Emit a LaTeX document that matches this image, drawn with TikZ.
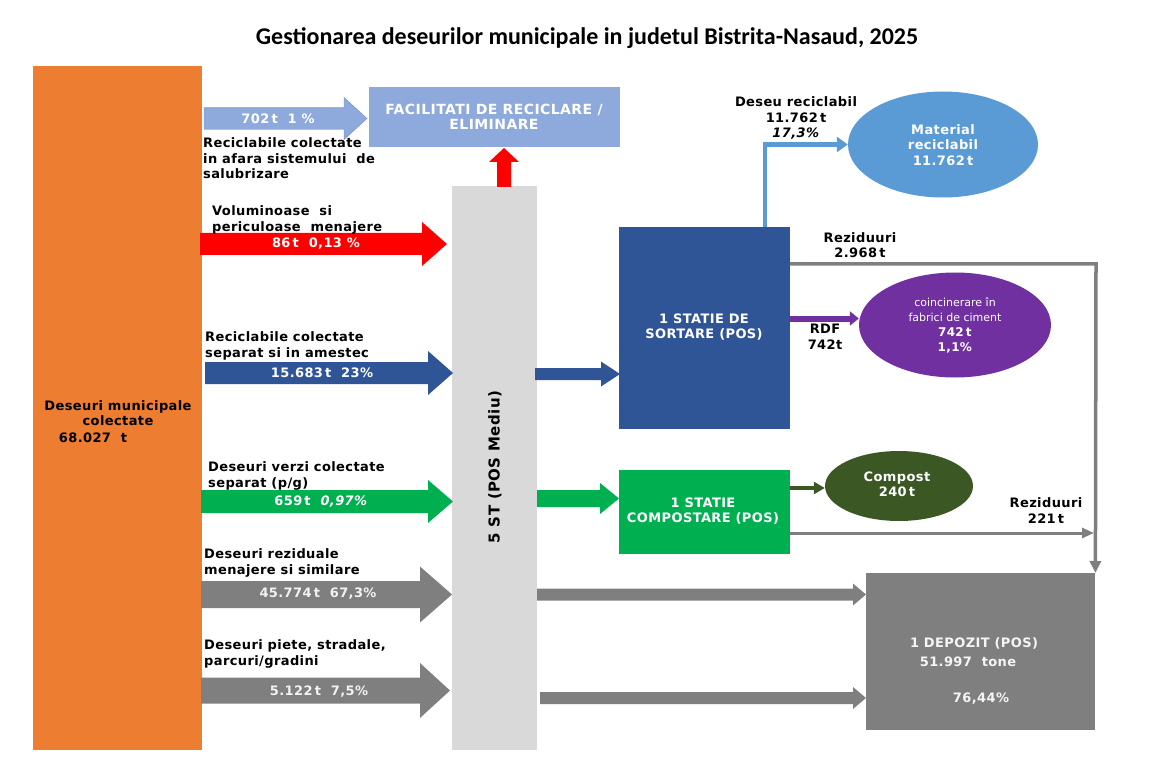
\documentclass[tikz,border=0pt]{standalone}
\usepackage{fontspec}
\setmainfont{DejaVu Sans}[LetterSpace=3]
\newfontfamily\plainfont{DejaVu Sans}
\newfontfamily\titlefont{Carlito}
\usetikzlibrary{shapes.geometric,arrows.meta}
\definecolor{orangeC}{HTML}{ED7D31}
\definecolor{barC}{HTML}{D9D9D9}
\definecolor{lblueC}{HTML}{8EA9DB}
\definecolor{lblueE}{HTML}{6F8BC8}
\definecolor{redC}{HTML}{FF0000}
\definecolor{dblueC}{HTML}{2F5597}
\definecolor{greenC}{HTML}{00B050}
\definecolor{grayC}{HTML}{7F7F7F}
\definecolor{skyC}{HTML}{5B9BD5}
\definecolor{purpleC}{HTML}{7030A0}
\definecolor{dgreenC}{HTML}{3A5724}
\newcommand\blockarr[7]{%
  \fill[#7] ({#1},{#4-#5}) -- ({#2},{#4-#5}) -- ({#2},{#4-#6}) -- ({#3},{#4}) -- ({#2},{#4+#6}) -- ({#2},{#4+#5}) -- ({#1},{#4+#5}) -- cycle;}
\begin{document}
\begin{tikzpicture}[x=1pt,y=-1pt,
  lbl/.style={font=\fontsize{13}{15.5}\selectfont\bfseries, align=left, anchor=north west, inner sep=0pt, text=black},
  clbl/.style={font=\fontsize{13}{15.5}\selectfont\bfseries, align=center, inner sep=0pt, text=black},
  wtxt/.style={font=\fontsize{13}{15.5}\selectfont\bfseries, text=white, inner sep=0pt, align=center},
  box/.style={draw=none, inner sep=0pt, anchor=north west},
  conn/.style={line width=4pt},
]
\useasboundingbox (0,0) rectangle (1161,767);

\node[font=\titlefont\fontsize{24}{28}\selectfont\bfseries] (title) at (587,38) {Gestionarea deseurilor municipale in judetul Bistrita-Nasaud, 2025};

% source
\node[box, fill=orangeC, minimum width=169pt, minimum height=684pt] (src) at (33,66) {};
\node[clbl] (srct) at (118,413) {Deseuri municipale\\colectate};
\node[clbl] (srcv) at (93,438) {68.027\ \ t};

% central bar
\node[box, fill=barC, minimum width=85pt, minimum height=564pt] (bar) at (452,186) {};
\node[rotate=90, font=\fontsize{15}{17}\selectfont\bfseries] (bart) at (495,467) {5 ST (POS Mediu)};

% facilitati
\node[box, fill=lblueC, minimum width=251pt, minimum height=60pt] (fac) at (369,87) {};
\node[wtxt, font=\fontsize{14}{15.5}\selectfont\bfseries] (fact) at (494,117) {FACILITATI DE RECICLARE /\\ELIMINARE};
\fill[redC] (497,187) -- (497,162) -- (489,162) -- (504,148) -- (519,162) -- (511,162) -- (511,187) -- cycle;

% input arrows
\blockarr{204}{344}{367}{118.5}{11}{21}{lblueC, draw=lblueE}
\node[wtxt] (a1) at (278,118.5) {702\,t\ \ 1 \%};
\node[lbl] (l1) at (203,137.5) {Reciclabile colectate\\in afara sistemului\ \ de\\salubrizare};

\blockarr{200}{422}{447}{244}{11}{22}{redC}
\node[wtxt] (a2) at (316,244) {86\,t\ \ 0,13 \%};
\node[lbl] (l2) at (212,205.5) {Voluminoase\ \ si\\periculoase\ \ menajere};

\blockarr{205}{428}{453}{373}{11}{22}{dblueC}
\node[wtxt] (a3) at (322,373) {15.683\,t\ \ 23\%};
\node[lbl] (l3) at (205,331.5) {Reciclabile colectate\\separat si in amestec};

\blockarr{201}{428}{453}{501.5}{11.5}{21.5}{greenC}
\node[wtxt] (a4) at (321,502) {659\,t\ \ \textit{0,97\%}};
\node[lbl] (l4) at (208,461.5) {Deseuri verzi colectate\\separat (p/g)};

\blockarr{201}{420}{452}{594.5}{13.5}{28}{grayC}
\node[wtxt, text=white!90!gray] (a5) at (318,594) {45.774\,t\ \ 67,3\%};
\node[lbl] (l5) at (204,548.5) {Deseuri reziduale\\menajere si similare};

\blockarr{201}{420}{450}{690.5}{13}{27.5}{grayC}
\node[wtxt, text=white!90!gray] (a6) at (319,692) {5.122\,t\ \ 7,5\%};
\node[lbl] (l6) at (204,639.5) {Deseuri piete, stradale,\\parcuri/gradini};

% sorting
\node[box, fill=dblueC, minimum width=171pt, minimum height=202pt] (sort) at (619,227) {};
\node[wtxt] (sortt) at (704,327) {1 STATIE DE\\SORTARE (POS)};
\blockarr{535}{601}{620}{374}{6}{12.5}{dblueC}

% composting
\node[box, fill=greenC, minimum width=171pt, minimum height=84pt] (comp) at (619,470) {};
\node[wtxt] (compt) at (703,511) {1 STATIE\\COMPOSTARE (POS)};
\blockarr{537}{600}{619}{498.5}{8.5}{15.5}{greenC}

% depozit
\node[box, fill=grayC, minimum width=229pt, minimum height=157pt] (dep) at (866,573) {};
\node[wtxt, text=white!92!gray] (dept1) at (974,643) {1 DEPOZIT (POS)};
\node[wtxt, text=white!92!gray] (dept2) at (968,662) {51.997\ \ tone};
\node[wtxt, text=white!92!gray] (dept3) at (981,699) {76,44\%};
\blockarr{537}{853}{866}{594.5}{6}{11}{grayC}
\blockarr{540}{853}{866}{698}{6}{11}{grayC}

% ellipses
\node[ellipse, fill=skyC, minimum width=190pt, minimum height=106pt, inner sep=0pt] (mat) at (943,144.5) {};
\node[wtxt] (matt) at (943,145) {Material\\reciclabil\\11.762\,t};
\node[ellipse, fill=purpleC, minimum width=192pt, minimum height=105pt, inner sep=0pt] (coi) at (955,325) {};
\node[text=white, align=center, inner sep=0pt, font=\fontsize{12}{15}\selectfont] (coit) at (955,325.5) {{\plainfont\fontsize{11}{15}\selectfont coincinerare în}\\{\plainfont\fontsize{11}{15}\selectfont fabrici de ciment}\\\textbf{742\,t}\\\textbf{1,1\%}};
\node[ellipse, fill=dgreenC, minimum width=148pt, minimum height=70pt, inner sep=0pt] (cpt) at (899,486) {};
\node[wtxt] (cptt) at (897,484.5) {Compost\\240\,t};

% connectors
\coordinate (sortTop) at (765,227);
\draw[conn, skyC, line width=4.5pt, -{Triangle[length=11pt,width=15pt]}] (sortTop) |- (mat.west);
\node[clbl] (l7) at (796,118) {Deseu reciclabil\\11.762\,t\\\textit{17,3\%}};

\coordinate (sortR1) at (790,264);
\coordinate (corner) at (1096,264);
\draw[conn, grayC, line width=3.5pt, -{Triangle[length=12pt,width=11pt]}] (sortR1) -- (corner) -- (dep.north east);
\node[clbl] (l8) at (860,245) {Reziduuri\\2.968\,t};

\coordinate (sortR2) at (790,318.5);
\draw[conn, purpleC, line width=6pt, -{Triangle[length=9pt,width=14pt]}] (sortR2) -- (sortR2 -| coi.west);
\node[clbl] (l9) at (825,337) {RDF\\742t};

\coordinate (compR1) at (790,488);
\draw[conn, dgreenC, -{Triangle[length=11pt,width=12pt]}] (compR1) -- (compR1 -| cpt.west);

\coordinate (compR2) at (790,533);
\coordinate (vline) at (1094,533);
\draw[conn, grayC, line width=3pt, -{Triangle[length=12pt,width=10pt]}] (compR2) -- (vline);
\node[clbl] (l10) at (1046,510.5) {Reziduuri\\221\,t};
\end{tikzpicture}
\end{document}
